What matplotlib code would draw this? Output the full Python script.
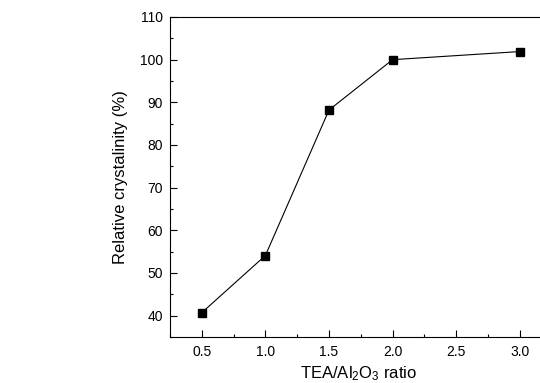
import matplotlib.pyplot as plt
from matplotlib.ticker import MultipleLocator

plt.rcParams['font.family'] = ['Liberation Sans', 'DejaVu Sans']
plt.rcParams['mathtext.fontset'] = 'custom'
plt.rcParams['mathtext.rm'] = 'Liberation Sans'
plt.rcParams['mathtext.it'] = 'Liberation Sans'

tea_ratio = [0.5, 1.0, 1.5, 2.0, 3.0]
crystallinity = [40.7, 54.1, 88.2, 100.0, 101.9]

fig = plt.figure(figsize=(5.4, 3.83), dpi=100)
# axes deliberately run past the right edge, as in the cropped original
ax = fig.add_axes([170 / 540, 1 - 337 / 383, 381.6 / 540, 320 / 383])

ax.plot(tea_ratio, crystallinity, color='black', lw=0.8,
        marker='s', markersize=6, markerfacecolor='black')

ax.set_xlim(0.25, 3.25)
ax.set_ylim(35, 110)
ax.xaxis.set_major_locator(MultipleLocator(0.5))
ax.xaxis.set_minor_locator(MultipleLocator(0.25))
ax.yaxis.set_major_locator(MultipleLocator(10))
ax.yaxis.set_minor_locator(MultipleLocator(5))
ax.tick_params(which='both', direction='in', labelsize=10, width=0.8)
ax.tick_params(which='major', length=5)
ax.tick_params(which='minor', length=2.5)
ax.tick_params(axis='x', pad=6)
ax.tick_params(axis='y', pad=5)
ax.spines['right'].set_visible(False)
for s in ['left', 'bottom', 'top']:
    ax.spines[s].set_linewidth(0.8)

ax.set_xlabel('TEA/Al$_2$O$_3$ ratio', fontsize=12)
ax.set_ylabel('Relative crystalinity (%)', fontsize=12)
ax.xaxis.set_label_coords((359 - 170) / 381.6, -(364 - 337) / 320, transform=ax.transAxes)
ax.xaxis.label.set_va('top')
ax.yaxis.set_label_coords(-(170 - 128) / 381.6, 0.5, transform=ax.transAxes)

fig.savefig('out.png', dpi=100)
